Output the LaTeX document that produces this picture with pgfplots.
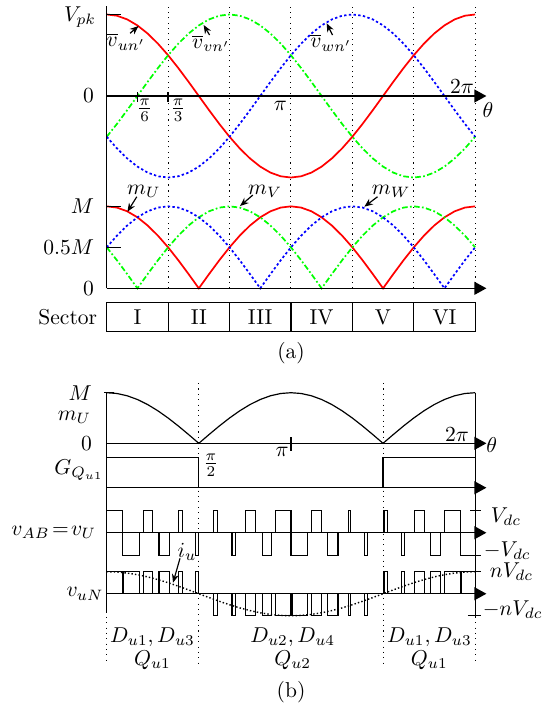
\documentclass[border=0pt]{standalone}
\usepackage{pgfplots}
\pgfplotsset{compat=1.18}
\usepackage{pgfplotstable}
\usetikzlibrary{arrows.meta}

\pgfplotstableread{
th u v w mu mv mw
0 1 -0.5 -0.5 1 0.5 0.5
10 0.9848 -0.3420 -0.6428 0.9848 0.3420 0.6428
20 0.9397 -0.1736 -0.7660 0.9397 0.1736 0.7660
30 0.8660 0 -0.8660 0.8660 0 0.8660
40 0.7660 0.1736 -0.9397 0.7660 0.1736 0.9397
50 0.6428 0.3420 -0.9848 0.6428 0.3420 0.9848
60 0.5 0.5 -1 0.5 0.5 1
70 0.3420 0.6428 -0.9848 0.3420 0.6428 0.9848
80 0.1736 0.7660 -0.9397 0.1736 0.7660 0.9397
90 0 0.8660 -0.8660 0 0.8660 0.8660
100 -0.1736 0.9397 -0.7660 0.1736 0.9397 0.7660
110 -0.3420 0.9848 -0.6428 0.3420 0.9848 0.6428
120 -0.5 1 -0.5 0.5 1 0.5
130 -0.6428 0.9848 -0.3420 0.6428 0.9848 0.3420
140 -0.7660 0.9397 -0.1736 0.7660 0.9397 0.1736
150 -0.8660 0.8660 0 0.8660 0.8660 0
160 -0.9397 0.7660 0.1736 0.9397 0.7660 0.1736
170 -0.9848 0.6428 0.3420 0.9848 0.6428 0.3420
180 -1 0.5 0.5 1 0.5 0.5
190 -0.9848 0.3420 0.6428 0.9848 0.3420 0.6428
200 -0.9397 0.1736 0.7660 0.9397 0.1736 0.7660
210 -0.8660 0 0.8660 0.8660 0 0.8660
220 -0.7660 -0.1736 0.9397 0.7660 0.1736 0.9397
230 -0.6428 -0.3420 0.9848 0.6428 0.3420 0.9848
240 -0.5 -0.5 1 0.5 0.5 1
250 -0.3420 -0.6428 0.9848 0.3420 0.6428 0.9848
260 -0.1736 -0.7660 0.9397 0.1736 0.7660 0.9397
270 0 -0.8660 0.8660 0 0.8660 0.8660
280 0.1736 -0.9397 0.7660 0.1736 0.9397 0.7660
290 0.3420 -0.9848 0.6428 0.3420 0.9848 0.6428
300 0.5 -1 0.5 0.5 1 0.5
310 0.6428 -0.9848 0.3420 0.6428 0.9848 0.3420
320 0.7660 -0.9397 0.1736 0.7660 0.9397 0.1736
330 0.8660 -0.8660 0 0.8660 0.8660 0
340 0.9397 -0.7660 -0.1736 0.9397 0.7660 0.1736
350 0.9848 -0.6428 -0.3420 0.9848 0.6428 0.3420
360 1 -0.5 -0.5 1 0.5 0.5
}\wave

\tikzset{
  arr/.style={-{Triangle[length=5.6pt,width=6pt]}, line width=0.6pt},
  lab/.style={-{Stealth[length=4pt,width=3.2pt]}, line width=0.55pt},
  ax/.style={line width=0.6pt},
  vd/.style={dotted, line width=0.5pt},
  gdash/.style={dash pattern=on 2.6pt off 1.1pt on 0.8pt off 1.1pt},
  bdash/.style={dash pattern=on 1.1pt off 1.1pt},
}
\pgfplotsset{
  base/.style={scale only axis, width=171.31pt, xmin=0, xmax=360,
    axis lines=none, clip=false, anchor=south west},
}

\begin{document}
\begin{tikzpicture}
\path[use as bounding box] (0,0) rectangle (252.5pt,-329.2pt);

% ---------- (a) top: phase voltages
\begin{axis}[base, at={(49.62pt,-86.03pt)}, height=83.24pt, ymin=-1.092, ymax=1.104]
\pgfplotsinvokeforeach{60,120,180,240,300,360}{\draw[vd] (#1,-1.092) -- (#1,1.104);}
\addplot[red, line width=0.8pt] table[x=th,y=u] {\wave};
\addplot[green, line width=0.8pt, gdash] table[x=th,y=v] {\wave};
\addplot[blue, line width=0.8pt, bdash] table[x=th,y=w] {\wave};
\draw[ax] (0,-1.092) -- (0,1.104);
\draw[arr] (0,0) -- (371,0);
\draw[ax] (0,1) -- (14,1);
\draw[ax] (30,-0.07) -- (30,0.053);
\draw[ax] (60,-0.07) -- (60,0.053);
\node[anchor=east] at (-3,0.97) {$V_{pk}$};
\node[anchor=east] at (-5,0) {$0$};
\node at (37.1,-0.172) {$\frac{\pi}{6}$};
\node at (69.7,-0.172) {$\frac{\pi}{3}$};
\node at (169.8,-0.123) {$\pi$};
\node at (347.2,0.11) {$2\pi$};
\node at (372.6,-0.172) {$\theta$};
\node at (18.9,0.666) {$\overline{v}_{un'}$};
\draw[lab] (22.8,0.769) -- (31.1,0.859);
\node at (101.9,0.647) {$\overline{v}_{vn'}$};
\draw[lab] (100.5,0.748) -- (94.7,0.871);
\node at (219.2,0.654) {$\overline{v}_{wn'}$};
\draw[lab] (220.6,0.748) -- (214.9,0.892);
\end{axis}

% ---------- (a) bottom: modulation
\begin{axis}[base, at={(49.62pt,-134.06pt)}, height=48.03pt, ymin=0, ymax=1.26]
\pgfplotsinvokeforeach{60,120,180,240,300,360}{\draw[vd] (#1,0) -- (#1,1.26);}
\addplot[red, line width=0.8pt] table[x=th,y=mu] {\wave};
\addplot[green, line width=0.8pt, gdash] table[x=th,y=mv] {\wave};
\addplot[blue, line width=0.8pt, bdash] table[x=th,y=mw] {\wave};
\draw[ax] (0,0) -- (0,1.26);
\draw[arr] (0,0) -- (371,0);
\draw[ax] (0,1) -- (14,1);
\draw[ax] (0,0.5) -- (14,0.5);
\node[anchor=east] at (-5,1) {$M$};
\node[anchor=east] at (-5,0.5) {$0.5M$};
\node[anchor=east] at (-5,0) {$0$};
\node at (36.2,1.178) {$m_U$};
\draw[lab] (29.4,1.117) -- (20.2,0.934);
\node at (154.7,1.178) {$m_V$};
\draw[lab] (142.8,1.138) -- (130.3,1.004);
\node at (277.9,1.178) {$m_W$};
\draw[lab] (264.6,1.117) -- (251.7,0.995);
% sector table
\draw[line width=0.55pt] (0,-0.171) rectangle (360,-0.529);
\pgfplotsinvokeforeach{60,120,180,240,300}{\draw[line width=0.55pt] (#1,-0.171) -- (#1,-0.529);}
\node[anchor=east] at (-2,-0.35) {Sector};
\node at (30,-0.35) {I};
\node at (90,-0.35) {II};
\node at (150,-0.35) {III};
\node at (210,-0.35) {IV};
\node at (270,-0.35) {V};
\node at (330,-0.35) {VI};
\node at (180.1,-0.796) {(a)};
\end{axis}

% ---------- (b) m_U
\begin{axis}[base, at={(49.62pt,-206.13pt)}, height=23.53pt, ymin=0, ymax=1]
\draw[vd] (90,1.19) -- (90,-4.38);
\draw[vd] (270,1.19) -- (270,-4.38);
\draw[vd] (0,-3.427) -- (0,-4.38);
\draw[vd] (360,-3.427) -- (360,-4.38);
\addplot[black, line width=0.55pt] table[x=th,y=mu] {\wave};
\draw[ax] (0,1) -- (0,-3.354);
\draw[ax] (360,1) -- (360,-3.45);
\draw[arr] (0,0) -- (371,0);
\draw[ax] (-2.5,1) -- (7,1);
\draw[ax] (180,-0.146) -- (180,0.119);
\node[anchor=east] at (-7,1) {$M$};
\node at (-31.5,0.514) {$m_U$};
\node[anchor=east] at (-7,0) {$0$};
\node at (101.9,-0.429) {$\frac{\pi}{2}$};
\node at (171.3,-0.166) {$\pi$};
\node at (342.3,0.164) {$2\pi$};
\node at (376.2,-0.04) {$\theta$};
\end{axis}

% ---------- (b) gate
\begin{axis}[base, at={(49.62pt,-226.78pt)}, height=14.14pt, ymin=0, ymax=1]
\addplot[black, line width=0.55pt] coordinates {(0,1) (90,1) (90,0)};
\addplot[black, line width=0.55pt] coordinates {(270,0) (270,1) (360,1)};
\draw[arr] (0,0) -- (371,0);
\node at (-27.1,0.582) {$G_{Q_{u1}}$};
\end{axis}

% ---------- (b) v_AB
\begin{axis}[base, at={(49.62pt,-258.17pt)}, height=20.93pt, ymin=-1, ymax=1]
\addplot[black, line width=0.55pt] coordinates {
(0,0)(0,1)(15.5,1)(15.5,-1)(32,-1)(32,0)(36,0)(36,1)(45,1)(45,0)(51,0)(51,-1)(61,-1)(61,0)
(70.5,0)(70.5,1)(74,1)(74,0)(87,0)(87,-1)(90,-1)(90,0)(104.5,0)(104.5,1)(108.5,1)(108.5,0)
(122.5,0)(122.5,-1)(126,-1)(126,0)(135.5,0)(135.5,1)(145,1)(145,0)(152,0)(152,-1)(161,-1)(161,0)
(165,0)(165,1)(180,1)(180,-1)(196,-1)(196,0)(200,0)(200,1)(210,1)(210,0)(216,0)(216,-1)(226,-1)(226,0)
(236,0)(236,1)(238.5,1)(238.5,0)(252,0)(252,-1)(255,-1)(255,0)(271,0)(271,1)(274.5,1)(274.5,0)
(288,0)(288,-1)(291,-1)(291,0)(301,0)(301,1)(310.5,1)(310.5,0)(316,0)(316,-1)(326,-1)(326,0)
(330,0)(330,1)(346,1)(346,-1)(360,-1)(360,0)};
\draw[arr] (0,0) -- (371,0);
\draw[ax] (355,1) -- (366,1);
\draw[ax] (355,-1) -- (366,-1);
\node at (-51.8,0) {$v_{AB}\!=\!v_U$};
\node[anchor=west] at (368,0.71) {$V_{dc}$};
\node[anchor=west] at (361,-0.81) {$-V_{dc}$};
\end{axis}

% ---------- (b) v_uN
\begin{axis}[base, at={(49.62pt,-286.30pt)}, height=20.46pt, ymin=-1, ymax=1]
\addplot[black, line width=0.55pt] coordinates {
(0,0)(0,1)(15.5,1)(15.5,0)(16.5,0)(16.5,1)(32,1)(32,0)(36,0)(36,1)(45,1)(45,0)(51,0)(51,1)(61,1)(61,0)
(70.5,0)(70.5,1)(74,1)(74,0)(87,0)(87,1)(90,1)(90,0)(104.5,0)(104.5,-1)(108.5,-1)(108.5,0)
(122.5,0)(122.5,-1)(126,-1)(126,0)(135.5,0)(135.5,-1)(145,-1)(145,0)(152,0)(152,-1)(161,-1)(161,0)
(165,0)(165,-1)(180,-1)(180,0)(181,0)(181,-1)(196,-1)(196,0)(200,0)(200,-1)(210,-1)(210,0)
(216,0)(216,-1)(226,-1)(226,0)(236,0)(236,-1)(238.5,-1)(238.5,0)(252,0)(252,-1)(255,-1)(255,0)
(271,0)(271,1)(274.5,1)(274.5,0)(288,0)(288,1)(291,1)(291,0)(301,0)(301,1)(310.5,1)(310.5,0)
(316,0)(316,1)(326,1)(326,0)(330,0)(330,1)(346,1)(346,0)(347,0)(347,1)(360,1)(360,0)};
\addplot[black, densely dotted, line width=0.65pt] table[x=th,y=u] {\wave};
\draw[arr] (0,0) -- (371,0);
\draw[ax] (355,1) -- (366,1);
\draw[ax] (353,-1) -- (366,-1);
\node at (-21.2,-0.01) {$v_{uN}$};
\node[anchor=west] at (367,1.0) {$nV_{dc}$};
\node[anchor=west] at (360,-0.74) {$-nV_{dc}$};
\node at (78.5,1.91) {$i_u$};
\draw[lab] (71.6,1.61) -- (64.8,0.5);
\node at (44.7,-1.955) {$D_{u1}, D_{u3}$};
\node at (44.7,-3.01) {$Q_{u1}$};
\node at (181.7,-1.955) {$D_{u2}, D_{u4}$};
\node at (181.7,-3.01) {$Q_{u2}$};
\node at (315.3,-1.955) {$D_{u1}, D_{u3}$};
\node at (315.3,-3.01) {$Q_{u1}$};
\node at (180.1,-4.45) {(b)};
\end{axis}
\end{tikzpicture}
\end{document}
